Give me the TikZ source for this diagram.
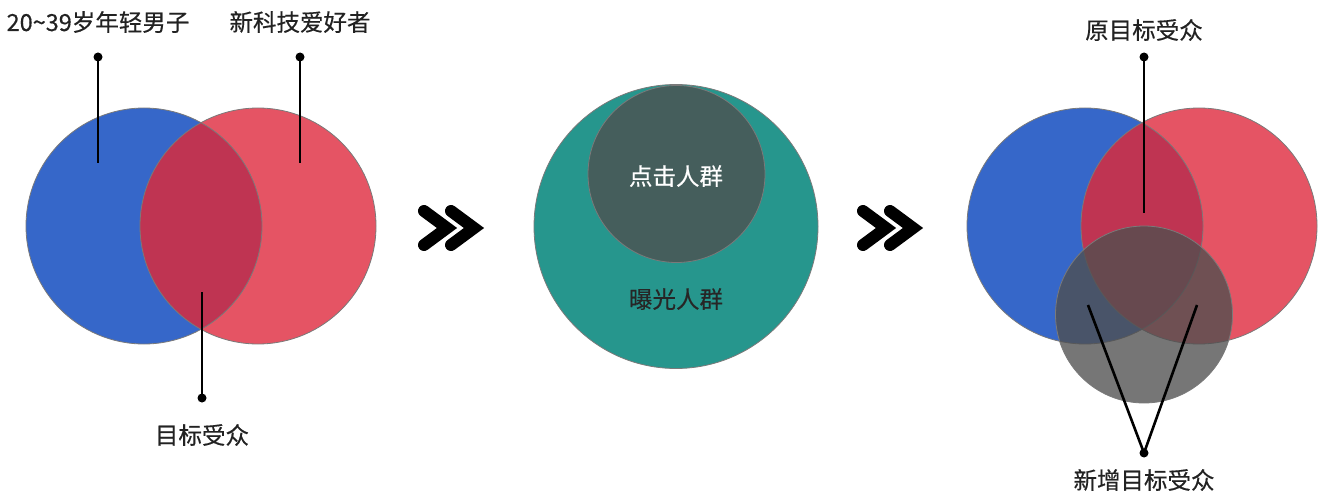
\documentclass[tikz,border=0pt]{standalone}
\usepackage{fontspec}
\newfontfamily\cjk[FakeBold=0.4]{Noto Sans CJK SC}
\definecolor{bluec}{HTML}{3667C9}
\definecolor{redc}{HTML}{E55464}
\definecolor{lensc}{HTML}{BF3452}
\definecolor{tealc}{HTML}{26968D}
\definecolor{grayc}{HTML}{4F4F4F}
\definecolor{ringc}{HTML}{7A7A7A}
\definecolor{txtc}{HTML}{222222}
\begin{document}
\begin{tikzpicture}[x=1pt,y=-1pt,
  lbl/.style={font=\cjk\fontsize{23.5}{28}\selectfont, text=txtc, anchor=base, inner sep=0pt},
  ring/.style={draw=ringc, line width=0.8pt},
  lead/.style={line width=2.6pt, black},
  dotc/.style={circle, fill=black, inner sep=0pt, minimum size=9pt},
  chev/.style={line width=12pt, line join=miter, line cap=round, black}]
\useasboundingbox (0,0) rectangle (1327,500);

% ---------- left panel ----------
\coordinate (lb) at (144,226);
\coordinate (lr) at (258,226);
\fill[bluec] (lb) circle (118);
\fill[redc] (lr) circle (118);
\begin{scope}
  \clip (lb) circle (118);
  \fill[lensc] (lr) circle (118);
\end{scope}
\draw[ring] (lb) circle (118);
\draw[ring] (lr) circle (118);

\node[lbl] (t1) at (98,31) {20\textasciitilde39岁年轻男子};
\node[lbl] (t2) at (300,31) {新科技爱好者};
\node[lbl] (t3) at (202,444) {目标受众};

\node[dotc] (d1) at (98,57) {};
\coordinate (e1) at (98,163);
\draw[lead] (d1.center) -- (e1);
\node[dotc] (d2) at (300,57) {};
\coordinate (e2) at (300,163);
\draw[lead] (d2.center) -- (e2);
\node[dotc] (d3) at (202,398) {};
\coordinate (e3) at (202,292);
\draw[lead] (d3.center) -- (e3);

% ---------- arrows ----------
\draw[chev] (424,211) -- (447,228) -- (424,245);
\draw[chev] (451,211) -- (474,228) -- (451,245);
\draw[chev] (863,211) -- (886,228) -- (863,245);
\draw[chev] (890,211) -- (913,228) -- (890,245);

% ---------- middle panel ----------
\coordinate (mb) at (676,226.5);
\coordinate (mi) at (676.5,174);
\fill[tealc] (mb) circle (142);
\draw[ring] (mb) circle (142);
\fill[grayc, fill opacity=0.78] (mi) circle (88.5);
\draw[ring] (mi) circle (88.5);
\node[lbl, text=white] (t4) at (676,185) {点击人群};
\node[lbl, text=black!85] (t5) at (676,308) {曝光人群};

% ---------- right panel ----------
\coordinate (rb) at (1085,226);
\coordinate (rr) at (1199,226);
\coordinate (rg) at (1144,314.5);
\fill[bluec] (rb) circle (118);
\fill[redc] (rr) circle (118);
\begin{scope}
  \clip (rb) circle (118);
  \fill[lensc] (rr) circle (118);
\end{scope}
\draw[ring] (rb) circle (118);
\draw[ring] (rr) circle (118);
\fill[grayc, fill opacity=0.78] (rg) circle (88.5);
\draw[ring] (rg) circle (88.5);

\node[lbl] (t6) at (1144,39) {原目标受众};
\node[lbl] (t7) at (1144,489) {新增目标受众};

\node[dotc] (d4) at (1144,57) {};
\coordinate (e4) at (1144,213);
\draw[lead] (d4.center) -- (e4);
\node[dotc] (d5) at (1144,453) {};
\coordinate (e5) at (1088,305);
\coordinate (e6) at (1197,305);
\draw[lead] (e5) -- (d5.center) -- (e6);
\end{tikzpicture}
\end{document}
